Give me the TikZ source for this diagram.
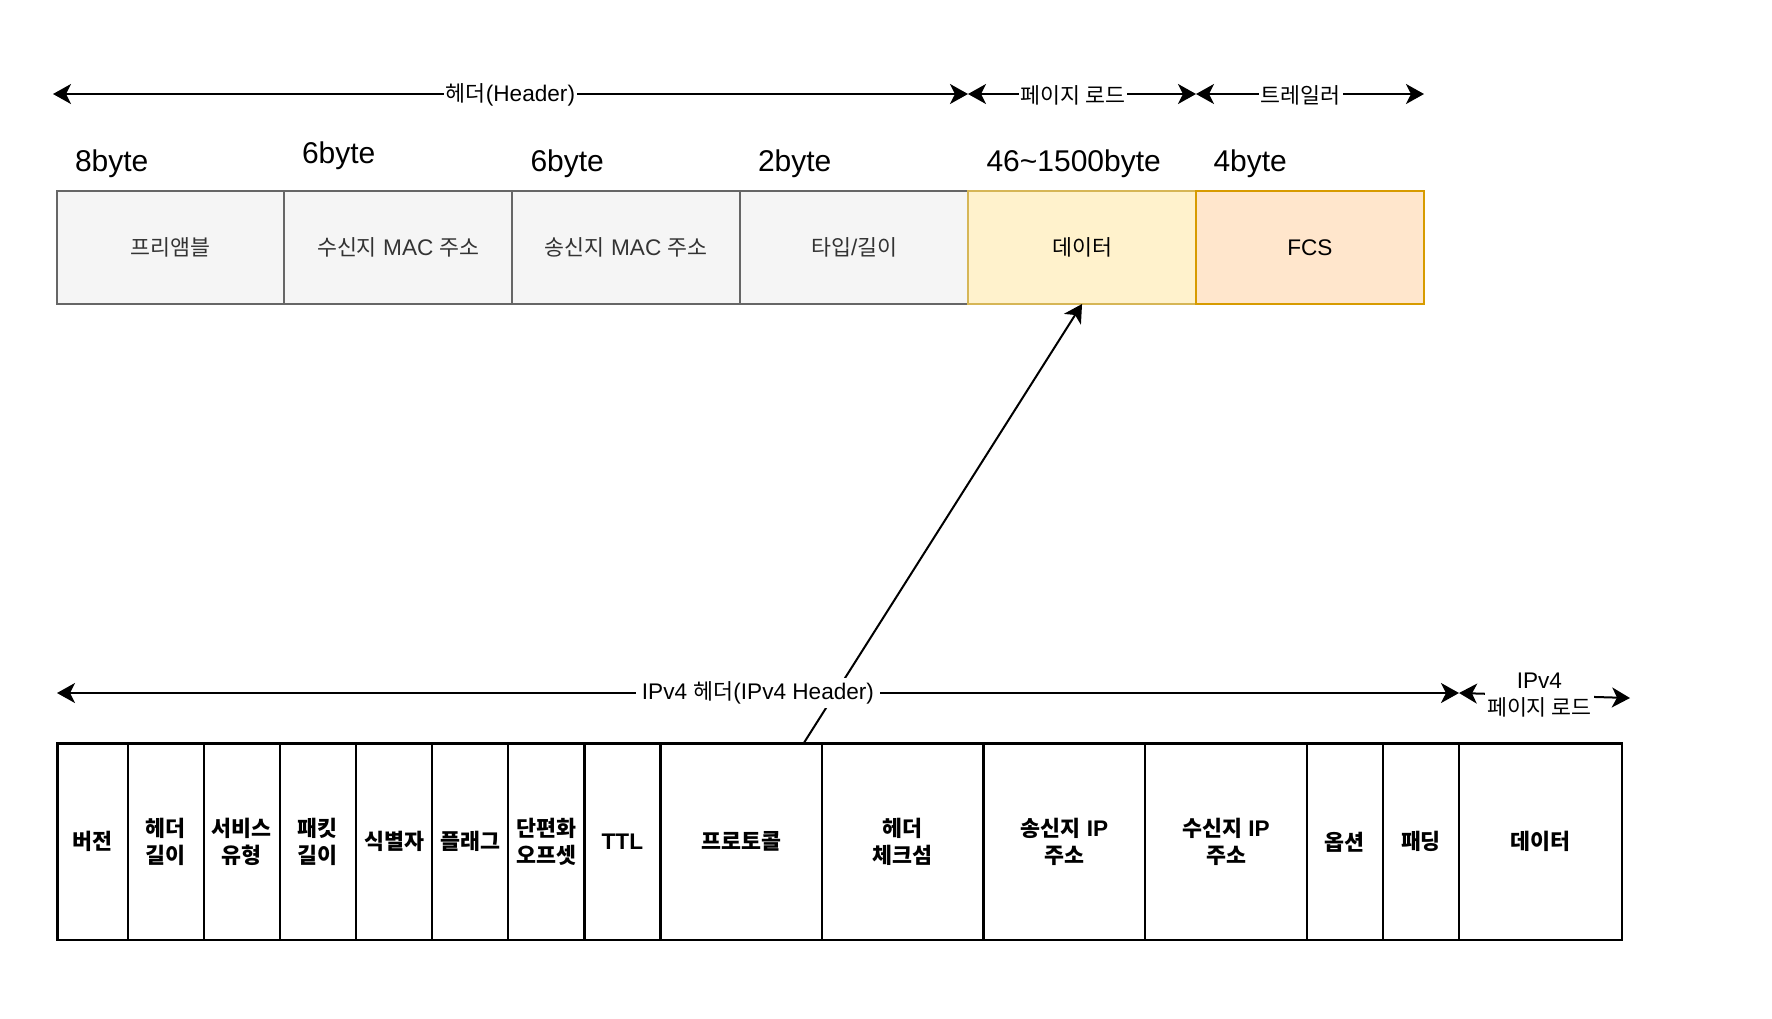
\documentclass[tikz,border=0pt]{standalone}
\usepackage{fontspec}
\setmainfont{Liberation Sans}
\newfontfamily\krfont[Scale=0.96]{Noto Sans CJK KR}
\newcommand\kr[1]{{\krfont #1}}
\usetikzlibrary{arrows.meta,calc}

\definecolor{grayfill}{HTML}{F5F5F5}
\definecolor{graydraw}{HTML}{666666}
\definecolor{graytext}{HTML}{333333}
\definecolor{yelfill}{HTML}{FFF2CC}
\definecolor{yeldraw}{HTML}{D6B656}
\definecolor{orgfill}{HTML}{FFE6CC}
\definecolor{orgdraw}{HTML}{D79B00}

\begin{document}
\begin{tikzpicture}[x=0.5pt,y=-0.5pt,
  >={Stealth[length=9pt,width=10pt,inset=2.5pt]},
  every node/.style={inner sep=0pt,outer sep=0pt},
  txt/.style={font=\fontsize{11.3pt}{13.5pt}\selectfont},
  framecell/.style={txt,line width=1pt,minimum width=113.95pt,minimum height=56.5pt},
  graycell/.style={framecell,draw=graydraw,fill=grayfill,text=graytext},
  datacell/.style={framecell,draw=yeldraw,fill=yelfill,text=black},
  fcscell/.style={framecell,draw=orgdraw,fill=orgfill,text=black},
  ipcell/.style={txt,font=\fontsize{11.3pt}{13.5pt}\selectfont\bfseries,draw=black,fill=white,
    line width=1.2pt,minimum height=98.4pt,align=center},
  narrow/.style={ipcell,minimum width=38.05pt},
  wide/.style={ipcell,minimum width=80.8pt},
  bytelbl/.style={anchor=base west,font=\fontsize{15pt}{18pt}\selectfont},
  span/.style={line width=1pt,<->},
  link/.style={line width=1pt,->},
  lbl/.style={txt,fill=white,inner xsep=1pt,inner ysep=2pt}]

\useasboundingbox (0,0) rectangle (1772,1018);

% Ethernet frame
\node[graycell] (pre)  at (170.45,247.5)  {\kr{프리앰블}};
\node[graycell] (dmac) at (398.35,247.5)  {\kr{수신지} MAC \kr{주소}};
\node[graycell] (smac) at (626.25,247.5)  {\kr{송신지} MAC \kr{주소}};
\node[graycell] (type) at (854.15,247.5)  {\kr{타입}/\kr{길이}};
\node[datacell] (fdata) at (1082.05,247.5) {\kr{데이터}};
\node[fcscell]  (fcs)  at (1309.95,247.5) {FCS};

% field sizes
\node[bytelbl] (b1) at (75,171.7)    {8byte};
\node[bytelbl] (b2) at (302,163.8)   {6byte};
\node[bytelbl] (b3) at (530.5,171.7) {6byte};
\node[bytelbl] (b4) at (758,171.7)   {2byte};
\node[bytelbl] (b5) at (986.5,171.7) {46\textasciitilde1500byte};
\node[bytelbl] (b6) at (1213.5,171.7){4byte};

% frame sections
\coordinate (hdrL) at (53,94);
\coordinate (hdrR) at (968,94);
\coordinate (trlL) at (1196,94);
\coordinate (trlR) at (1424,94);
\draw[span] (hdrL) -- node[lbl,yshift=-0.5pt] {\kr{헤더}(Header)} (hdrR);
\draw[span] (hdrR) -- node[lbl,pos=0.46,yshift=-0.5pt] {\kr{페이지 로드}} (trlL);
\draw[span] (trlL) -- node[lbl,pos=0.46,yshift=-0.5pt] {\kr{트레일러}} (trlR);

% IPv4 packet
\node[ipcell,minimum width=35.05pt] (ver) at (92.65,841.8) {\kr{버전}};
\node[narrow] (ihl)   at (165.75,841.8) {\kr{헤더}\\\kr{길이}};
\node[narrow] (tos)   at (241.85,841.8) {\kr{서비스}\\\kr{유형}};
\node[narrow] (plen)  at (317.95,841.8) {\kr{패킷}\\\kr{길이}};
\node[narrow] (ident) at (394.05,841.8) {\kr{식별자}};
\node[narrow] (flags) at (470.15,841.8) {\kr{플래그}};
\node[narrow] (frag)  at (546.25,841.8) {\kr{단편화}\\\kr{오프셋}};
\node[narrow] (ttl)   at (622.35,841.8) {TTL};
\node[wide]   (proto) at (741.2,841.8)  {\kr{프로토콜}};
\node[wide]   (csum)  at (902.8,841.8)  {\kr{헤더}\\\kr{체크섬}};
\node[wide]   (src)   at (1064.4,841.8) {\kr{송신지} IP\\\kr{주소}};
\node[wide]   (dst)   at (1226,841.8)   {\kr{수신지} IP\\\kr{주소}};
\node[narrow] (opt)   at (1344.85,841.8){\kr{옵션}};
\node[narrow] (pad)   at (1420.95,841.8){\kr{패딩}};
\node[ipcell,minimum width=81.35pt] (ipdata) at (1540.35,841.8) {\kr{데이터}};

% IP packet is carried in the frame's data field
\coordinate (up) at ($(proto.north west)!0.886!(proto.north east)$);
\draw[link] (up) -- (fdata.south);

% packet sections
\coordinate (ipL) at (57,693);
\coordinate (ipM) at (1459,693);
\coordinate (ipR) at (1630,698);
\draw[span] (ipL) -- node[lbl,inner xsep=3pt] {IPv4 \kr{헤더}(IPv4 Header)} (ipM);
\draw[span] (ipM) -- node[lbl,pos=0.47,align=center] {IPv4\\\kr{페이지 로드}} (ipR);
\end{tikzpicture}
\end{document}
